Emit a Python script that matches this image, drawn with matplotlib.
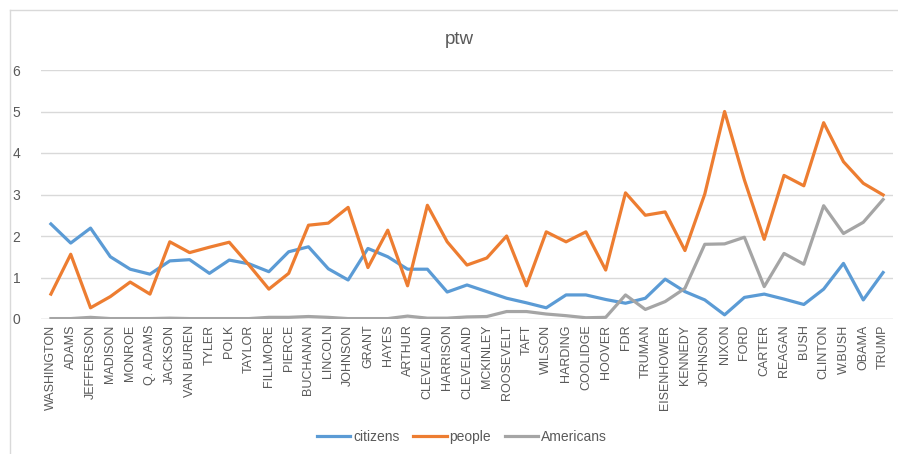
import matplotlib
matplotlib.use("Agg")
import matplotlib.pyplot as plt
from matplotlib.lines import Line2D

presidents = ["WASHINGTON", "ADAMS", "JEFFERSON", "MADISON", "MONROE", "Q. ADAMS",
              "JACKSON", "VAN BUREN", "TYLER", "POLK", "TAYLOR", "FILLMORE", "PIERCE",
              "BUCHANAN", "LINCOLN", "JOHNSON", "GRANT", "HAYES", "ARTHUR", "CLEVELAND",
              "HARRISON", "CLEVELAND", "MCKINLEY", "ROOSEVELT", "TAFT", "WILSON",
              "HARDING", "COOLIDGE", "HOOVER", "FDR", "TRUMAN", "EISENHOWER", "KENNEDY",
              "JOHNSON", "NIXON", "FORD", "CARTER", "REAGAN", "BUSH", "CLINTON",
              "W.BUSH", "OBAMA", "TRUMP"]

citizens = [2.29, 1.83, 2.19, 1.50, 1.20, 1.08, 1.40, 1.43, 1.10, 1.42, 1.33, 1.14, 1.62,
            1.74, 1.21, 0.94, 1.70, 1.50, 1.20, 1.20, 0.65, 0.82, 0.66, 0.50, 0.39, 0.27,
            0.58, 0.58, 0.47, 0.38, 0.50, 0.96, 0.66, 0.46, 0.10, 0.52, 0.60, 0.48, 0.35,
            0.72, 1.34, 0.46, 1.12]

people = [0.60, 1.56, 0.27, 0.54, 0.89, 0.60, 1.86, 1.60, 1.73, 1.85, 1.30, 0.72, 1.10,
          2.26, 2.31, 2.69, 1.24, 2.14, 0.80, 2.74, 1.86, 1.30, 1.47, 2.00, 0.80, 2.10,
          1.86, 2.10, 1.18, 3.04, 2.50, 2.58, 1.65, 3.01, 5.00, 3.35, 1.92, 3.46, 3.21,
          4.73, 3.79, 3.27, 2.99]

americans = [0.01, 0.01, 0.04, 0.01, 0.01, 0.01, 0.02, 0.01, 0.01, 0.01, 0.01, 0.04, 0.04,
             0.06, 0.04, 0.01, 0.01, 0.01, 0.07, 0.02, 0.02, 0.05, 0.06, 0.18, 0.18, 0.12,
             0.08, 0.03, 0.04, 0.58, 0.23, 0.42, 0.74, 1.80, 1.81, 1.97, 0.78, 1.58, 1.32,
             2.73, 2.06, 2.33, 2.88]

yticks = [0, 1, 2, 3, 4, 5, 6]

plt.rcParams['font.family'] = ['Liberation Sans', 'DejaVu Sans']
txt = '#595959'

fig = plt.figure(figsize=(8.98, 4.54), dpi=100)
ax = fig.add_axes([41 / 898, 1 - 319 / 454, (893 - 41) / 898, (319 - 70) / 454])

x = list(range(len(presidents)))
ax.plot(x, citizens, color='#5B9BD5', lw=2.3, solid_joinstyle='round', zorder=3, label='citizens')
ax.plot(x, people, color='#ED7D31', lw=2.3, solid_joinstyle='round', zorder=3, label='people')
ax.plot(x, americans, color='#A5A5A5', lw=2.3, solid_joinstyle='round', zorder=3, label='Americans')

ax.set_xlim(-0.5, len(presidents) - 0.5)
ax.set_ylim(0, 6)
ax.set_yticks(yticks)
ax.set_yticklabels([str(v) for v in yticks], color=txt, fontsize=10)
ax.set_xticks(x)
ax.set_xticklabels(presidents, rotation=90, color=txt, fontsize=9)
ax.tick_params(axis='both', length=0)
ax.tick_params(axis='y', pad=15)
ax.tick_params(axis='x', pad=4)
ax.grid(axis='y', color='#D9D9D9', lw=1.0, zorder=0)
for s in ax.spines.values():
    s.set_visible(False)
ax.axhline(0, color='#D9D9D9', lw=1.0, zorder=1)

fig.text(459 / 898, 1 - 40 / 454, 'ptw', ha='center', va='center', fontsize=13.5, color=txt)

handles = [Line2D([], [], color=c, lw=2.3) for c in ['#5B9BD5', '#ED7D31', '#A5A5A5']]
fig.legend(handles, ['citizens', 'people', 'Americans'], loc='center',
           bbox_to_anchor=(462 / 898, 1 - 437 / 454), ncol=3, frameon=False,
           fontsize=10, labelcolor=txt, handlelength=2.4, columnspacing=1.0,
           handletextpad=0.2)

# chart area border (top and left visible)
fig.add_artist(Line2D([10 / 898, 1.0], [1 - 10 / 454, 1 - 10 / 454], color='#D9D9D9', lw=1.0,
                      transform=fig.transFigure))
fig.add_artist(Line2D([10 / 898, 10 / 898], [0, 1 - 10 / 454], color='#D9D9D9', lw=1.0,
                      transform=fig.transFigure))

fig.savefig('out.png', dpi=100, facecolor='white')
